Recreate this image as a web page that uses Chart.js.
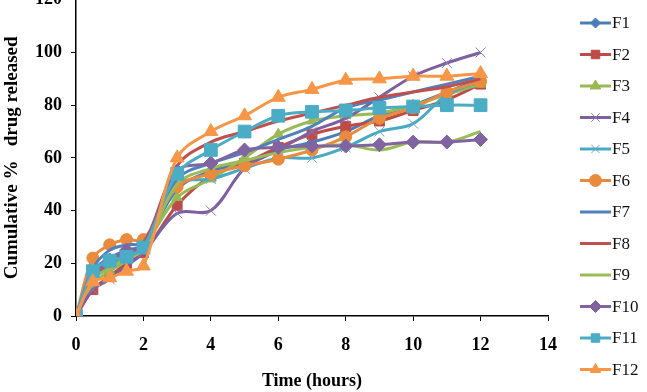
<!DOCTYPE html>
<html>
<head>
<meta charset="utf-8">
<script src="https://cdn.jsdelivr.net/npm/chart.js@4/dist/chart.umd.min.js"></script>
<style>
  body { margin: 0; background: #fff; overflow: hidden; }
  #wrap { position: relative; width: 647px; height: 392px; overflow: hidden; }
  #releaseChart { position: absolute; left: 0; top: -20px; }
</style>
</head>
<body>
<div id="wrap"><canvas id="releaseChart" width="647" height="412"></canvas></div>
<script>
// sampling times (hours)
const times = [0, 0.5, 1, 1.5, 2, 3, 4, 5, 6, 7, 8, 9, 10, 11, 12];

// cumulative % drug released
const F1  = [0, 17, 22, 25, 27, 48, 55, 58, 63, 66, 70, 76, 80, 85, 90];
const F2  = [0, 10, 15, 20, 24, 42, 53, 58, 64, 69, 72, 74, 78, 82, 88];
const F3  = [0, 12, 17, 21, 26, 45, 52, 60, 69, 74, 76, 77, 80, 84, 88];
const F4  = [0, 10, 14, 19, 24, 39, 40, 56, 63, 70, 75, 83, 91, 96, 100];
const F5  = [0, 14, 19, 23, 26, 50, 52, 56, 60, 60, 64, 70, 73, 84, 89];
const F6  = [0, 22, 27, 29, 29, 49, 54, 57, 59.5, 63, 68, 75, 79, 85, 89];
const F7  = [0, 18, 25, 27, 28, 52, 58, 62, 67, 72, 79, 82, 85, 88, 91];
const F8  = [0, 15, 20, 24, 27, 57, 66, 70, 74, 77, 80, 83, 85, 87, 90];
const F9  = [0, 14, 18, 22, 25, 50, 56, 59, 62, 64, 65, 63, 66, 66, 70];
const F10 = [0, 16, 21, 25, 26, 55, 58, 63, 64, 64.5, 64.5, 65, 66, 66, 67];
const F11 = [0, 17, 21, 22.5, 26, 54, 63, 70, 76, 77.5, 78, 79, 79.5, 80, 80];
const F12 = [0, 13, 14.5, 17, 19, 60, 70, 76, 83, 86, 89.5, 90, 91, 91, 92];

const seriesNames = ['F1', 'F2', 'F3', 'F4', 'F5', 'F6', 'F7', 'F8', 'F9', 'F10', 'F11', 'F12'];
const seriesValues = [F1, F2, F3, F4, F5, F6, F7, F8, F9, F10, F11, F12];

const xTicks = [0, 2, 4, 6, 8, 10, 12, 14];
const yTicks = [0, 20, 40, 60, 80, 100, 120];

// look of each series (excel-ish palette)
const looks = [
  { color: '#4A7EBB', style: 'rectRot',  r: 5 },
  { color: '#BE4B48', style: 'rect',     r: 7 },
  { color: '#98B954', style: 'triangle', r: 6 },
  { color: '#7D60A0', style: 'crossRot', r: 7, mark: '#8C7BB0' },
  { color: '#46AAC5', style: 'crossRot', r: 7, mark: '#6FA8C8' },
  { color: '#E98A3D', style: 'circle',   r: 6 },
  { color: '#4F81BD', style: false,      r: 0 },
  { color: '#C0504D', style: false,      r: 0 },
  { color: '#9BBB59', style: false,      r: 0 },
  { color: '#8064A2', style: 'rectRot',  r: 7 },
  { color: '#4BACC6', style: 'rect',     r: 9 },
  { color: '#F79646', style: 'triangle', r: 8 }
];

const datasets = seriesNames.map((name, i) => {
  const lk = looks[i];
  const isCross = lk.style === 'crossRot';
  return {
    label: name,
    data: times.map((t, j) => ({ x: t, y: seriesValues[i][j] })),
    borderColor: lk.color,
    backgroundColor: lk.color,
    borderWidth: 3,
    tension: 0.35,
    pointStyle: lk.style,
    pointRadius: lk.r,
    pointBackgroundColor: lk.color,
    pointBorderColor: isCross ? lk.mark : lk.color,
    pointBorderWidth: 1,
    order: 11 - i
  };
});

const serifBold = { family: '"Liberation Serif", "DejaVu Serif", serif', size: 18, weight: 'bold' };

// legend on the right: line + marker + name
const lineLegend = {
  id: 'lineLegend',
  afterDraw(chart) {
    const ctx = chart.ctx;
    ctx.save();
    chart.data.datasets.forEach((ds, i) => {
      const y = 43 + i * 31.5;
      ctx.strokeStyle = ds.borderColor;
      ctx.lineWidth = 3;
      ctx.beginPath();
      ctx.moveTo(580, y);
      ctx.lineTo(611, y);
      ctx.stroke();
      if (ds.pointStyle) {
        ctx.fillStyle = ds.pointBackgroundColor;
        ctx.strokeStyle = ds.pointBorderColor;
        ctx.lineWidth = ds.pointBorderWidth;
        Chart.helpers.drawPoint(ctx, { pointStyle: ds.pointStyle, radius: Math.min(ds.pointRadius, 6), rotation: 0, borderWidth: ds.pointBorderWidth }, 595.5, y);
      }
      ctx.fillStyle = '#111';
      ctx.font = '17px "Liberation Serif", serif';
      ctx.textBaseline = 'middle';
      ctx.textAlign = 'left';
      ctx.fillText(ds.label, 612, y + 1);
    });
    ctx.restore();
  }
};

new Chart(document.getElementById('releaseChart'), {
  type: 'line',
  data: { datasets: datasets },
  plugins: [lineLegend],
  options: {
    responsive: false,
    animation: false,
    layout: { padding: { top: 0, right: 99, bottom: 0, left: 0 } },
    plugins: { legend: { display: false }, tooltip: { enabled: false } },
    scales: {
      x: {
        type: 'linear',
        min: 0,
        max: 14,
        afterBuildTicks: (scale) => { scale.ticks = xTicks.map(v => ({ value: v })); },
        afterFit: (scale) => { scale.height = 76; },
        ticks: { color: '#000', font: serifBold, padding: 14, maxRotation: 0 },
        grid: { drawOnChartArea: false, color: '#000', tickLength: 5, lineWidth: 1 },
        border: { color: '#000', width: 1.5 },
        title: { display: true, text: 'Time (hours)', color: '#000', font: serifBold, padding: { top: 0, bottom: 0 } }
      },
      y: {
        min: 0,
        max: 120,
        afterBuildTicks: (scale) => { scale.ticks = yTicks.map(v => ({ value: v })); },
        afterFit: (scale) => { scale.width = 76; },
        ticks: { color: '#000', font: serifBold, padding: 9 },
        grid: { drawOnChartArea: false, color: '#000', tickLength: 5, lineWidth: 1 },
        border: { color: '#000', width: 1.5 },
        title: { display: true, text: 'Cumulative %   drug released', color: '#000', font: { ...serifBold, size: 19 }, padding: { top: 1, bottom: 0 } }
      }
    }
  }
});
</script>
</body>
</html>
